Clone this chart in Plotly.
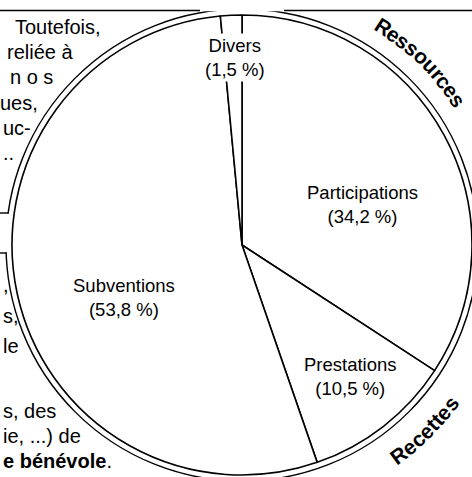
import math
import plotly.graph_objects as go

# ---- data ----
labels = ["Participations", "Prestations", "Subventions", "Divers"]
values = [34.2, 10.5, 53.8, 1.5]

# ---- geometry (pixels) ----
W, H = 472, 477
CX, CY, R = 242, 245, 230
RO = 236

def px(x):
    return x / W

def py(y):
    return 1 - y / H

FONT = "Liberation Sans, Arial, Helvetica, sans-serif"

fig = go.Figure()
fig.add_trace(go.Pie(
    labels=labels, values=values, sort=False, direction="clockwise", rotation=0,
    marker=dict(colors=["white"] * len(values), line=dict(color="black", width=1.6)),
    textinfo="none", hoverinfo="none", showlegend=False,
    domain=dict(x=[px(CX - R), px(CX + R)], y=[py(CY + R), py(CY - R)]),
))

shapes = []
# outer ring
shapes.append(dict(type="circle", xref="paper", yref="paper", layer="below",
                   x0=px(CX - RO), x1=px(CX + RO), y0=py(CY + RO), y1=py(CY - RO),
                   line=dict(color="black", width=1.4), fillcolor="white"))
# clipping masks
shapes.append(dict(type="rect", xref="paper", yref="paper", layer="above",
                   x0=px(165), x1=px(320), y0=py(11.3), y1=py(-2),
                   line=dict(width=0), fillcolor="white"))
shapes.append(dict(type="rect", xref="paper", yref="paper", layer="above",
                   x0=px(-2), x1=px(10.6), y0=py(252.3), y1=py(213.7),
                   line=dict(width=0), fillcolor="white"))
# frame lines
for (x0, y0, x1, y1) in [(0, 10.5, 200, 10.5), (284, 10.5, 472, 10.5),
                         (0, 213, 8.4, 213), (0, 253, 6.3, 253)]:
    shapes.append(dict(type="line", xref="paper", yref="paper", layer="above",
                       x0=px(x0), y0=py(y0), x1=px(x1), y1=py(y1),
                       line=dict(color="black", width=1.4)))

ann = []
# slice labels
label_pos = {"Divers": (235, 57.5), "Participations": (362, 204),
             "Prestations": (350, 376.5), "Subventions": (124, 297.5)}
for lab, val in zip(labels, values):
    x, y = label_pos[lab]
    txt = f"{lab}<br>({str(val).replace('.', ',')} %)"
    ann.append(dict(x=px(x), y=py(y), xref="paper", yref="paper", text=txt,
                    showarrow=False, xanchor="center", yanchor="middle",
                    bgcolor="white", borderpad=1,
                    font=dict(family=FONT, size=18.5, color="black")))

# side text fragments (column of text beside the chart)
side = [
    ("Toutefois,", 57.5, 27, "center"),
    ("reliée à", 40, 52, "center"),
    ("n o s", 31.5, 77, "center"),
    ("ues,", 40, 103, "right"),
    ("uc-", 0.5, 128, "left"),
    ("..", 0.5, 153, "left"),
    (",", 0.5, 285, "left"),
    ("s,", 0.5, 316, "left"),
    ("le", 0.5, 346, "left"),
    ("s, des", 0.5, 411, "left"),
    ("ie, ...) de", 0.5, 436, "left"),
    ("<b>e bénévole</b>.", 0.5, 461, "left"),
]
for t, x, y, xa in side:
    ann.append(dict(x=px(x), y=py(y), xref="paper", yref="paper", text=t,
                    showarrow=False, xanchor=xa, yanchor="middle",
                    font=dict(family=FONT, size=20, color="black")))

# curved text
BW = {"R": .722, "e": .556, "s": .556, "o": .611, "u": .611, "r": .389,
      "c": .556, "t": .333}

def arc_text(text, center_deg, r, size, bottom):
    ws = [BW.get(ch, .556) * size for ch in text]
    total = sum(ws)
    cum = -total / 2
    for ch, w in zip(text, ws):
        s = cum + w / 2
        cum += w
        d = math.degrees(s / r)
        th = center_deg - d if bottom else center_deg + d
        x = CX + r * math.sin(math.radians(th))
        y = CY - r * math.cos(math.radians(th))
        ang = th - 180 if bottom else th
        ann.append(dict(x=px(x), y=py(y), xref="paper", yref="paper",
                        text=f"<b>{ch}</b>", showarrow=False, textangle=ang,
                        xanchor="center", yanchor="middle",
                        font=dict(family=FONT, size=size, color="black")))

arc_text("Ressources", 44.3, 260, 21, False)
arc_text("Recettes", 135.5, 262, 21, True)

fig.update_layout(width=W, height=H, margin=dict(l=0, r=0, t=0, b=0),
                  paper_bgcolor="white", plot_bgcolor="white",
                  shapes=shapes, annotations=ann)
fig.write_html("out.html", config={"displayModeBar": False},
               post_script="document.body.style.margin='0';"
                           "document.body.style.overflow='hidden';")
